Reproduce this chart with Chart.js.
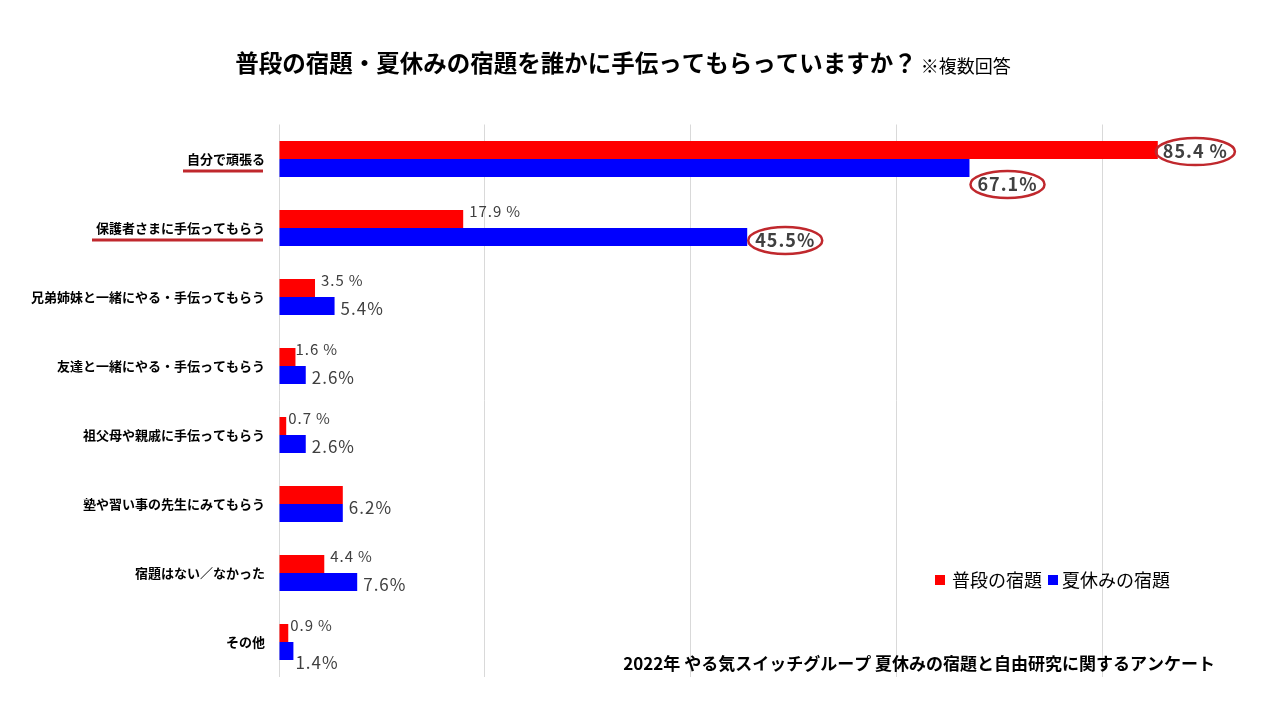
<!DOCTYPE html>
<html lang="ja">
<head>
<meta charset="utf-8">
<title>宿題を誰かに手伝ってもらっていますか</title>
<script src="https://cdn.jsdelivr.net/npm/chart.js@4/dist/chart.umd.min.js"></script>
<style>
  html, body { margin: 0; padding: 0; background: #fff; }
  #wrap { width: 1280px; height: 720px; }
</style>
</head>
<body>
<div id="wrap"><canvas id="myChart" width="1280" height="720"></canvas></div>
<script>
// data
var categories = [
    '自分で頑張る',
    '保護者さまに手伝ってもらう',
    '兄弟姉妹と一緒にやる・手伝ってもらう',
    '友達と一緒にやる・手伝ってもらう',
    '祖父母や親戚に手伝ってもらう',
    '塾や習い事の先生にみてもらう',
    '宿題はない／なかった',
    'その他'
];
var regularHomework = [85.4, 17.9, 3.5, 1.6, 0.7, 6.2, 4.4, 0.9];
var summerHomework = [67.1, 45.5, 5.4, 2.6, 2.6, 6.2, 7.6, 1.4];
var seriesNames = ['普段の宿題', '夏休みの宿題'];
var gridSteps = [0, 20, 40, 60, 80];

var titleText = '普段の宿題・夏休みの宿題を誰かに手伝ってもらっていますか？';
var titleNote = '※複数回答';
var sourceText = '2022年 やる気スイッチグループ 夏休みの宿題と自由研究に関するアンケート';

var FONT = '"Noto Sans CJK JP", "Noto Sans", sans-serif';
var RED = '#ff0000';
var BLUE = '#0000ff';
var MARK = '#c0282d';

// which labels get the bold text + red ring (dataset, index)
var ringed = { '0-0': true, '1-0': true, '1-1': true };
// small nudges for labels that sit off the usual spot
var nudge = { '1-0': [0, 13], '1-7': [-4, 9], '0-4': [-4, 0], '0-3': [-6, 0], '0-7': [-4, 0] };
// categories with underlined labels
var underlined = [0, 1];

var decorations = {
    id: 'decorations',
    afterDraw: function (chart) {
        var ctx = chart.ctx;
        ctx.save();

        // title
        ctx.textBaseline = 'middle';
        ctx.fillStyle = '#000';
        ctx.font = 'bold 23.5px ' + FONT;
        var w1 = ctx.measureText(titleText).width;
        ctx.font = '18px ' + FONT;
        var w2 = ctx.measureText(titleNote).width;
        var tx = 623 - (w1 + w2 + 4) / 2;
        ctx.textAlign = 'left';
        ctx.font = 'bold 23.5px ' + FONT;
        ctx.fillText(titleText, tx, 63);
        ctx.font = '18px ' + FONT;
        ctx.fillText(titleNote, tx + w1 + 4, 66);

        // underlines under highlighted categories
        var yScale = chart.scales.y;
        ctx.font = 'bold 13px ' + FONT;
        underlined.forEach(function (i) {
            var y = yScale.getPixelForValue(i);
            var w = ctx.measureText(categories[i]).width;
            ctx.fillStyle = MARK;
            ctx.fillRect(265 - w - 4, y + 10.5, w + 2, 3);
        });

        // legend
        var lx = 935, ly = 580;
        ctx.font = '18px ' + FONT;
        ctx.fillStyle = RED;
        ctx.fillRect(lx, ly - 5, 10, 10);
        ctx.fillStyle = '#000';
        ctx.fillText(seriesNames[0], lx + 17, ly);
        var lw = ctx.measureText(seriesNames[0]).width;
        ctx.fillStyle = BLUE;
        ctx.fillRect(lx + 17 + lw + 6, ly - 5, 10, 10);
        ctx.fillStyle = '#000';
        ctx.fillText(seriesNames[1], lx + 17 + lw + 6 + 14, ly);

        // source
        ctx.font = 'bold 17px ' + FONT;
        ctx.textAlign = 'right';
        ctx.fillText(sourceText, 1215, 664);

        // value labels
        ctx.textAlign = 'left';
        ctx.letterSpacing = '1px';
        chart.data.datasets.forEach(function (ds, d) {
            var meta = chart.getDatasetMeta(d);
            meta.data.forEach(function (bar, i) {
                var other = chart.data.datasets[1 - d].data[i];
                var key = d + '-' + i;
                var x = bar.x + 6;
                var y = d === 0 ? bar.y - 8 : bar.y + 3;
                var big = d === 1;
                if (ds.data[i] === other) {
                    if (d === 1) return;
                    y = yScale.getPixelForValue(i) + 4;
                    big = true;
                }
                if (nudge[key]) { x += nudge[key][0]; y += nudge[key][1]; }
                var txt = ds.data[i].toFixed(1) + (d === 0 && !big ? '\u2009%' : '%');
                ctx.fillStyle = '#404040';
                if (ringed[key]) {
                    txt = ds.data[i].toFixed(1) + (d === 0 ? ' %' : '%');
                    ctx.font = 'bold 18px ' + FONT;
                    var w = ctx.measureText(txt).width;
                    if (d === 0) { x = bar.x + 5; y = bar.y + 1; }
                    else { x += 2; }
                    ctx.fillText(txt, x, y);
                    ctx.beginPath();
                    ctx.ellipse(x + w / 2, y + 0.5, w / 2 + 7, 13.5, 0, 0, Math.PI * 2);
                    ctx.strokeStyle = MARK;
                    ctx.lineWidth = 2.5;
                    ctx.stroke();
                } else {
                    ctx.font = (big ? '17px ' : '15px ') + FONT;
                    ctx.fillText(txt, x, y);
                }
            });
        });
        ctx.restore();
    }
};

var ctx = document.getElementById('myChart').getContext('2d');

var chart = new Chart(ctx, {
    type: 'bar',
    data: {
        labels: categories,
        datasets: [{
            label: seriesNames[0],
            backgroundColor: RED,
            data: regularHomework
        }, {
            label: seriesNames[1],
            backgroundColor: BLUE,
            data: summerHomework
        }]
    },
    options: {
        indexAxis: 'y',
        responsive: false,
        animation: false,
        devicePixelRatio: 1,
        categoryPercentage: 0.52,
        barPercentage: 1.0,
        layout: { padding: { top: 124.5, bottom: 43.5, right: 44, left: 0 } },
        plugins: {
            legend: { display: false },
            title: { display: false },
            tooltip: { enabled: false }
        },
        scales: {
            x: {
                min: 0,
                max: 93,
                afterBuildTicks: function (scale) {
                    scale.ticks = gridSteps.map(function (v) { return { value: v }; });
                },
                ticks: { display: false },
                grid: { color: '#d9d9d9', lineWidth: 1, drawTicks: false },
                border: { display: false }
            },
            y: {
                afterFit: function (scale) { scale.width = 279; },
                grid: { display: false, drawTicks: false },
                border: { display: false },
                ticks: {
                    padding: 14,
                    color: '#000',
                    font: { family: FONT, size: 13, weight: 'bold' }
                }
            }
        }
    },
    plugins: [decorations]
});
</script>
</body>
</html>
